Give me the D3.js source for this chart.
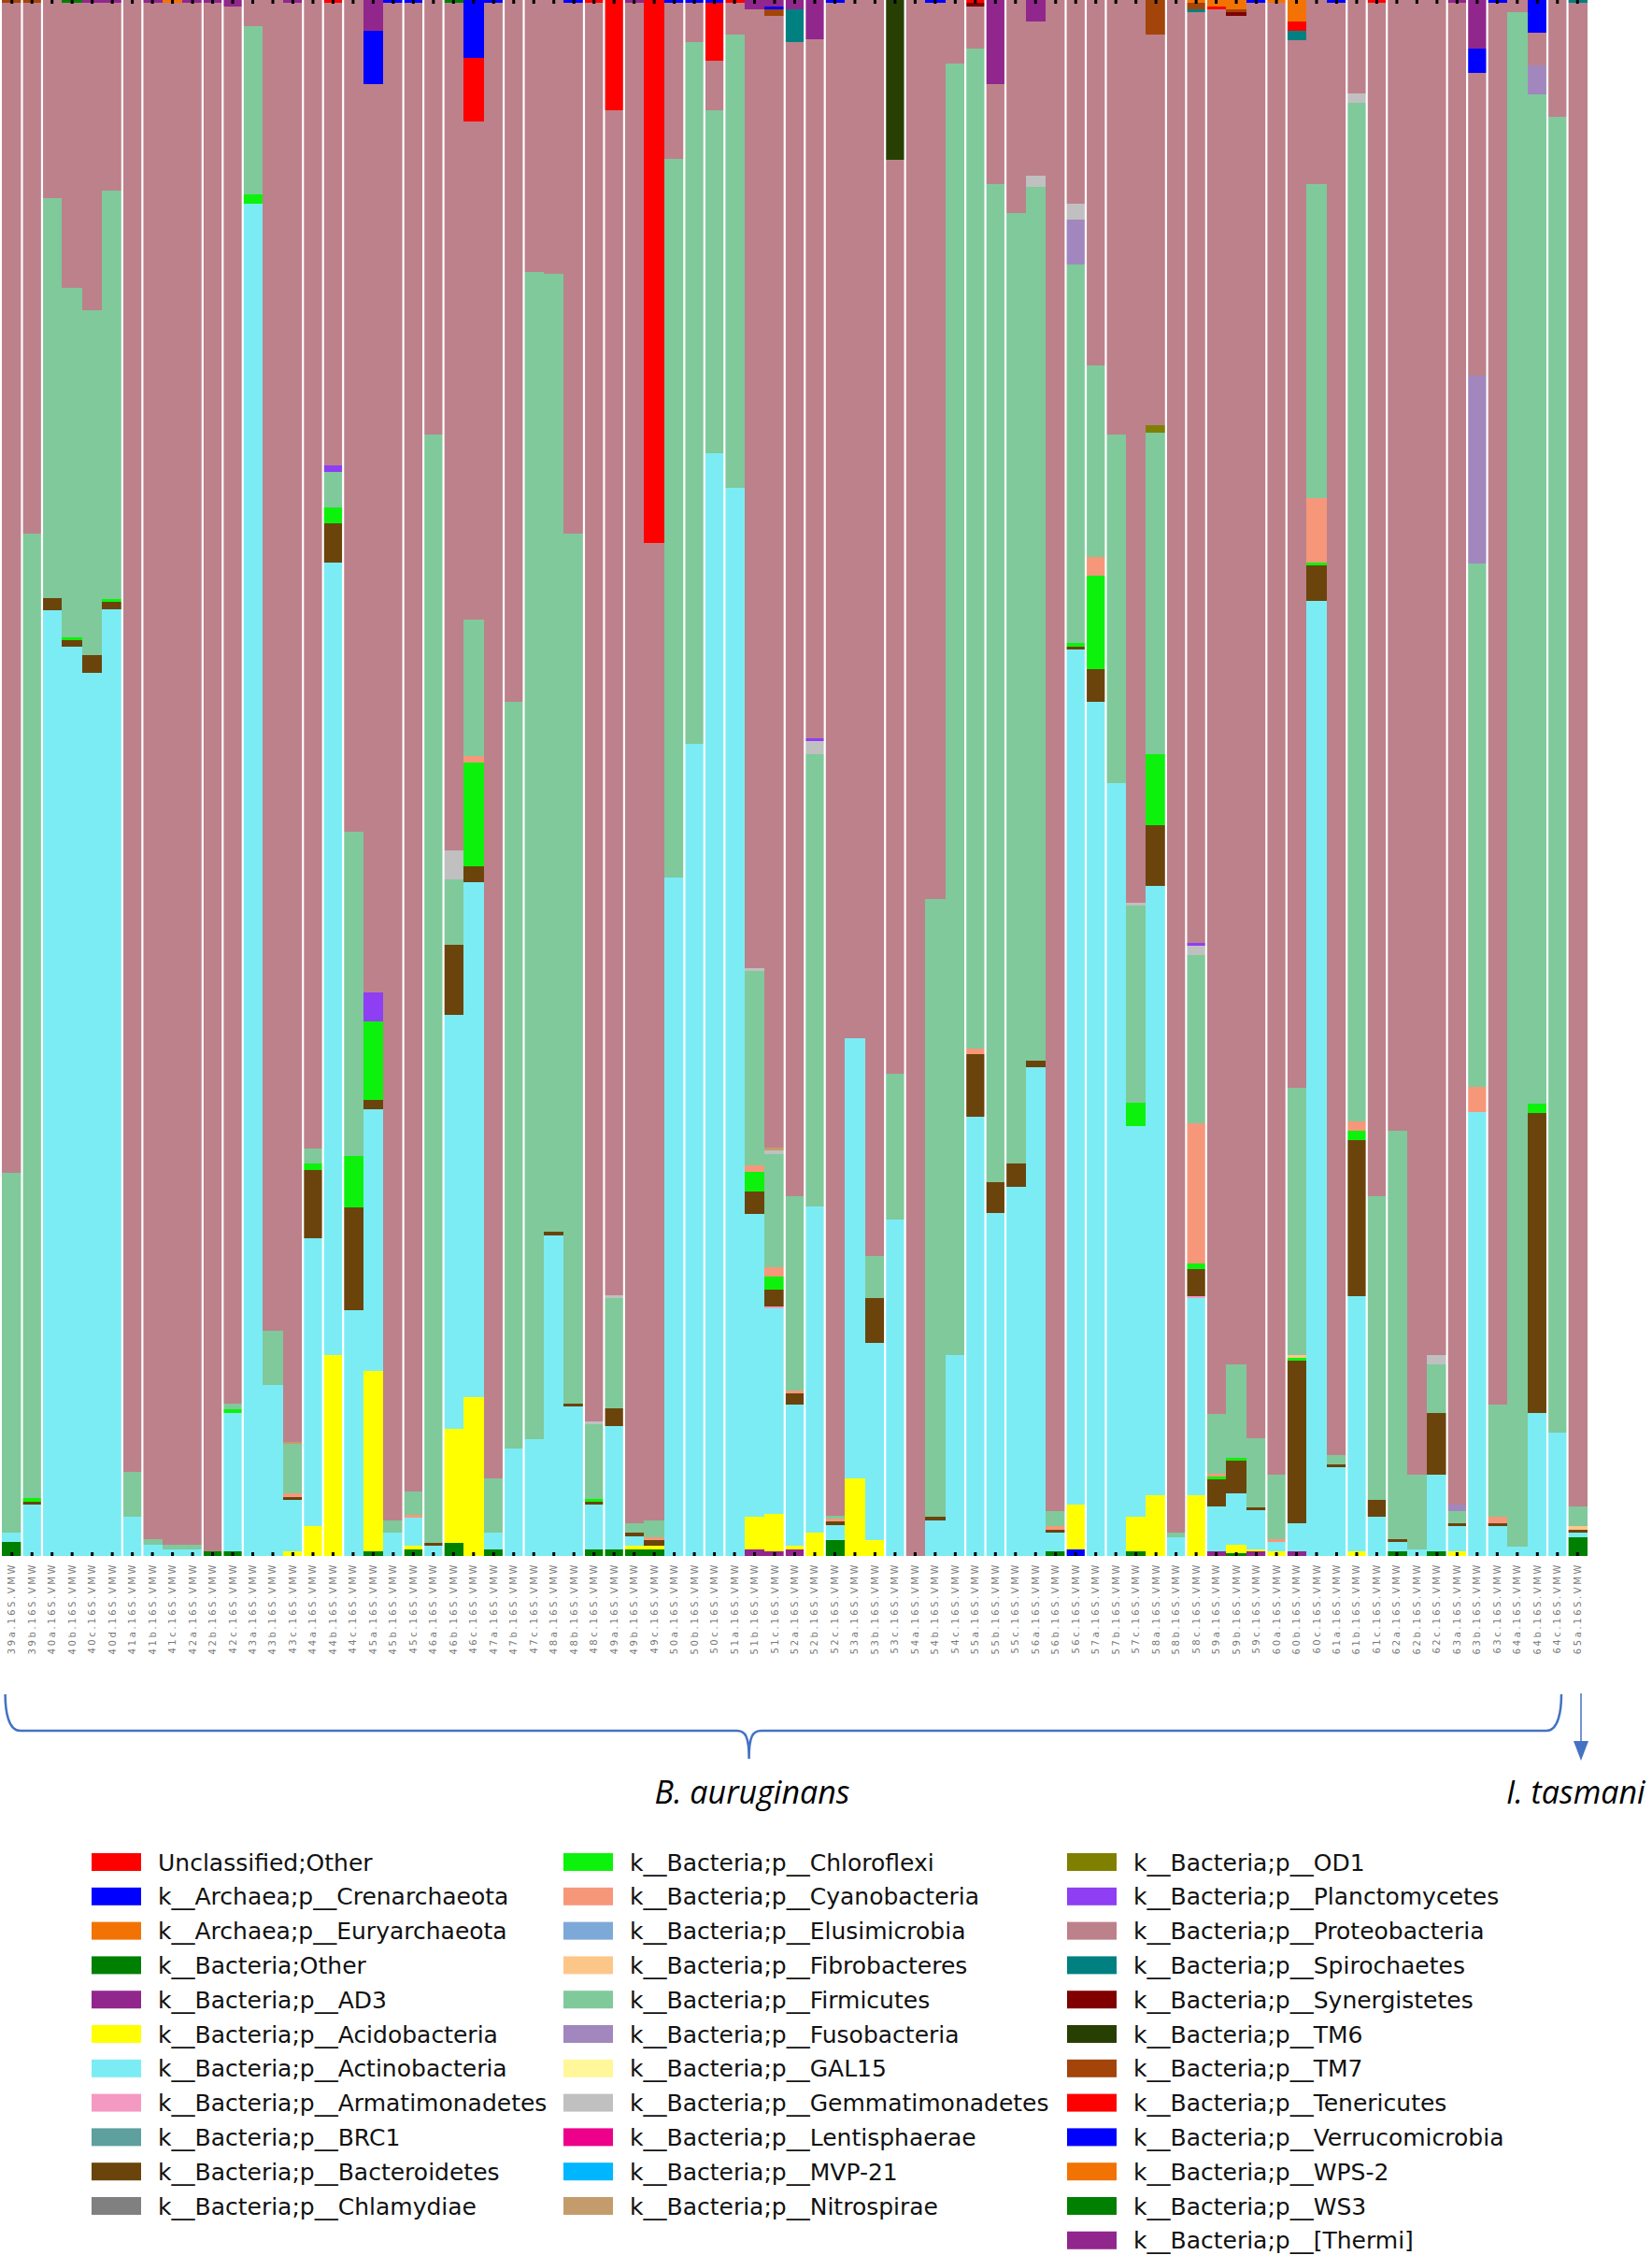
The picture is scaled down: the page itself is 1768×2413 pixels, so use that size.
<!DOCTYPE html>
<html>
<head>
  <meta charset="utf-8">
  <script src="https://d3js.org/d3.v7.min.js"></script>
  <style>
    body { margin: 0; background: #ffffff; }
    svg { display: block; font-family: "DejaVu Sans", sans-serif; }
    .sample_label { font-size: 10px; fill: #7a7a7a; letter-spacing: 2.6px; }
    .legend_label { font-size: 25px; fill: #111111; }
    .group_label { font-family: "Open Sans", sans-serif; font-style: italic; font-size: 34px; fill: #000000; }
  </style>
  <title>Sponge microbiome phyla</title>
</head>
<body>
  <svg></svg>
  <script>
    // samples, left to right
    const samples = [
      "39a","39b","40a","40b","40c","40d","41a","41b","41c","42a",
      "42b","42c","43a","43b","43c","44a","44b","44c","45a","45b",
      "45c","46a","46b","46c","47a","47b","47c","48a","48b","48c",
      "49a","49b","49c","50a","50b","50c","51a","51b","51c","52a",
      "52b","52c","53a","53b","53c","54a","54b","54c","55a","55b",
      "55c","56a","56b","56c","57a","57b","57c","58a","58b","58c",
      "59a","59b","59c","60a","60b","60c","61a","61b","61c","62a",
      "62b","62c","63a","63b","63c","64a","64b","64c","65a"
    ]

    // white rules drawn before these sample indexes
    const gapsBefore = [1,2,6,7,10,11,12,15,16,17,20,21,22,25,26,29,30,31,34,35,36,39,40,41,
                        44,45,48,49,50,53,54,55,58,59,60,63,64,67,68,69,72,73,74,77,78]

    const taxa = [
      "Unclassified;Other", "k__Archaea;p__Crenarchaeota", "k__Archaea;p__Euryarchaeota",
      "k__Bacteria;Other", "k__Bacteria;p__AD3", "k__Bacteria;p__Acidobacteria",
      "k__Bacteria;p__Actinobacteria", "k__Bacteria;p__Armatimonadetes", "k__Bacteria;p__BRC1",
      "k__Bacteria;p__Bacteroidetes", "k__Bacteria;p__Chlamydiae", "k__Bacteria;p__Chloroflexi",
      "k__Bacteria;p__Cyanobacteria", "k__Bacteria;p__Elusimicrobia", "k__Bacteria;p__Fibrobacteres",
      "k__Bacteria;p__Firmicutes", "k__Bacteria;p__Fusobacteria", "k__Bacteria;p__GAL15",
      "k__Bacteria;p__Gemmatimonadetes", "k__Bacteria;p__Lentisphaerae", "k__Bacteria;p__MVP-21",
      "k__Bacteria;p__Nitrospirae", "k__Bacteria;p__OD1", "k__Bacteria;p__Planctomycetes",
      "k__Bacteria;p__Proteobacteria", "k__Bacteria;p__Spirochaetes", "k__Bacteria;p__Synergistetes",
      "k__Bacteria;p__TM6", "k__Bacteria;p__TM7", "k__Bacteria;p__Tenericutes",
      "k__Bacteria;p__Verrucomicrobia", "k__Bacteria;p__WPS-2", "k__Bacteria;p__WS3",
      "k__Bacteria;p__[Thermi]"
    ]

    const colors = [
      "#ff0000", "#0000ff", "#f27304", "#008000", "#91278d", "#ffff00", "#7cecf4", "#f49ac2",
      "#5da09e", "#6b440b", "#808080", "#0cf20c", "#f7977a", "#7da9d8", "#fdc689", "#80c99b",
      "#a187be", "#fff799", "#c0c0c0", "#ed008a", "#00b6ff", "#c49c6b", "#808000", "#8e3ef3",
      "#bd818b", "#008080", "#800000", "#283f04", "#a3440a", "#ff0000", "#0000ff", "#f27304",
      "#008000", "#91278d"
    ]

    // relative abundance (%) per sample, one list per phylum; [] = absent everywhere
    const unclassified = []
    const crenarchaeota = [0,0,0,0,0,0,0,0,0,0, 0,0,0,0,0,0,0,0,0,0, 0,0,0,0,0,0,0,0,0,0, 0,0,0,0,0,0,0,0,0,0, 0,0,0,0,0,0,0,0,0,0, 0,0,0,0.4,0,0,0,0,0,0, 0,0,0,0,0,0,0,0,0,0, 0,0,0,0,0,0,0,0,0]
    const euryarchaeota = []
    const bacteriaOther = [0.9,0,0,0,0,0,0,0,0,0, 0.3,0.3,0,0,0,0,0,0,0.3,0, 0.4,0,0.85,0,0.4,0,0,0,0,0.4, 0.4,0.4,0.4,0,0,0,0,0,0,0, 0,1.0,0,0,0,0,0,0,0,0, 0,0,0.3,0,0,0,0.3,0,0,0, 0,0.2,0,0,0,0,0,0,0,0.3, 0,0.3,0,0,0,0,0,0,1.2]
    const ad3 = [0,0,0,0,0,0,0,0,0,0, 0,0,0,0,0,0,0,0,0,0, 0,0,0,0,0,0,0,0,0,0, 0,0,0,0,0,0,0,0.4,0.3,0.4, 0,0,0,0,0,0,0,0,0,0, 0,0,0,0,0,0,0,0,0,0, 0.3,0,0.3,0,0.3,0,0,0,0,0, 0,0,0,0,0,0,0,0,0]
    const acidobacteria = [0,0,0,0,0,0,0,0,0,0, 0,0,0,0,0.3,1.9,12.9,0,11.6,0, 0.25,0,7.3,10.2,0,0,0,0,0,0, 0,0.25,0.25,0,0,0,0,2.1,2.4,0.25, 1.5,0,5.0,1.0,0,0,0,0,0,0, 0,0,0,2.9,0,0,2.2,3.9,0,3.9, 0,0.5,0.15,0.3,0,0,0,0.3,0,0, 0,0,0.3,0,0,0,0,0,0]
    const actinobacteria = [0.6,3.3,60.7,58.4,56.6,60.7,2.5,0.7,0.4,0.4, 0,8.9,86.9,11.0,3.3,18.5,50.9,15.8,16.8,1.5, 1.8,0.65,26.6,33.1,1.1,6.9,7.5,20.6,9.6,2.9, 8.0,0.6,0,43.6,52.2,70.8,68.6,19.5,13.2,9.1, 21.0,1.0,28.3,12.7,21.6,0,2.3,12.9,28.2,22.0, 23.7,31.4,1.2,54.9,54.9,49.6,25.1,39.1,1.2,12.7, 2.9,3.3,2.5,0.6,1.8,61.3,5.7,16.4,2.5,0.6, 0.4,4.9,1.6,28.5,1.9,0.6,9.2,7.9,0.3]
    const armatimonadetes = [0,0,0,0,0,0,0,0,0,0, 0,0,0,0,0,0,0,0,0,0, 0,0,0,0,0,0,0,0,0,0, 0,0,0,0,0,0,0,0,0.15,0, 0,0,0,0,0,0,0,0,0,0, 0,0,0,0,0,0,0,0,0,0.15, 0,0,0,0,0,0,0,0,0,0, 0,0,0,0,0,0,0,0,0]
    const brc1 = []
    const bacteroidetes = [0,0.2,0.8,0.4,1.1,0.5,0,0,0,0, 0,0,0,0,0.2,4.4,2.5,6.6,0.6,0, 0,0.2,4.5,1.0,0,0,0,0.2,0.2,0.2, 1.1,0.25,0.4,0,0,0,0,1.4,1.1,0.7, 0,0.2,0,2.9,0,0,0.2,0,4.0,2.0, 1.5,0.4,0.2,0.2,2.1,0,0,3.9,0,1.7, 1.7,2.1,0.2,0,10.4,2.3,0.2,10.0,1.1,0.2, 0,4.0,0.2,0,0.2,0,19.3,0,0.2]
    const chlamydiae = []
    const chloroflexi = [0,0.2,0,0.2,0,0.2,0,0,0,0, 0,0.2,0.6,0,0,0.4,1.0,3.3,5.0,0, 0,0,0,6.7,0,0,0,0,0,0.15, 0,0,0,0,0,0,0,1.3,0.8,0, 0,0,0,0,0,0,0,0,0,0, 0,0,0,0.2,6.0,0,1.5,4.6,0,0.4, 0.2,0.2,0,0,0.2,0.2,0,0.6,0,0, 0,0,0,0,0,0,0.6,0,0]
    const cyanobacteria = [0,0,0,0,0,0,0,0,0,0, 0,0,0,0,0.2,0,0,0,0,0, 0.2,0,0,0.4,0,0,0,0,0,0, 0,0,0.15,0,0,0,0,0.4,0.6,0.2, 0,0.2,0,0,0,0,0,0,0.4,0, 0,0,0.2,0,1.2,0,0,0,0,9.0, 0.2,0,0,0.2,0,4.1,0,0.6,0,0, 0,0,0,1.6,0.4,0,0,0,0]
    const elusimicrobia = []
    const fibrobacteres = [0,0,0,0,0,0,0,0,0,0, 0,0,0,0,0,0,0,0,0,0, 0,0,0,0,0,0,0,0,0,0, 0,0,0,0,0,0,0,0,0,0, 0,0,0,0,0,0,0,0,0,0, 0,0,0,0,0,0,0,0,0,0, 0,0,0,0,0.2,0,0,0,0,0, 0,0,0,0,0,0,0,0,0.2]
    const firmicutes = [23.1,62.0,25.7,22.4,22.1,26.2,2.9,0.4,0.3,0.3, 0,0.4,10.8,3.5,3.2,1.0,2.3,20.8,0,0.8, 1.5,71.2,4.2,8.8,3.5,48.0,75.0,61.5,55.9,4.8, 7.1,0.6,1.1,46.2,45.1,22.0,29.1,12.5,7.3,12.5, 29.1,0.2,0,2.7,9.4,0,39.7,82.9,64.2,64.0, 61.1,56.1,1.0,24.3,12.3,22.4,12.7,20.6,0.3,10.8, 3.8,6.0,4.4,4.1,17.1,20.2,0.6,65.5,19.5,26.2, 4.8,3.1,0.8,33.6,7.2,98.5,64.9,84.6,1.3]
    const fusobacteria = [0,0,0,0,0,0,0,0,0,0, 0,0,0,0,0,0,0,0,0,0, 0,0,0,0,0,0,0,0,0,0, 0,0,0,0,0,0,0,0,0,0, 0,0,0,0,0,0,0,0,0,0, 0,0,0,2.9,0,0,0,0,0,0, 0,0,0,0,0,0,0,0,0,0, 0,0,0.4,12.1,0,0,1.9,0,0]
    const gal15 = []
    const gemmatimonadetes = [0,0,0,0,0,0,0,0,0,0, 0,0,0,0,0,0,0,0,0,0, 0,0,1.9,0,0,0,0,0,0,0.2, 0.2,0,0,0,0,0,0,0.2,0.2,0, 0.8,0,0,0,0,0,0,0,0,0, 0,0.7,0,1.0,0,0,0.2,0,0,0.6, 0,0,0,0,0,0,0,0.6,0,0, 0,0.6,0,0,0,0,0,0,0]
    const lentisphaerae = []
    const mvp21 = []
    const nitrospirae = [0,0,0,0,0,0,0,0,0,0, 0,0,0,0,0.15,0,0,0,0,0, 0,0,0,0,0,0,0,0,0,0, 0,0,0,0,0,0,0,0,0.2,0, 0,0,0,0,0,0,0,0,0,0, 0,0,0,0,0,0,0,0,0,0, 0,0,0,0,0,0,0,0,0,0, 0,0,0,0,0,0,0,0,0]
    const od1 = [0,0,0,0,0,0,0,0,0,0, 0,0,0,0,0,0,0,0,0,0, 0,0,0,0,0,0,0,0,0,0, 0,0,0,0,0,0,0,0,0,0, 0,0,0,0,0,0,0,0,0,0, 0,0,0,0,0,0,0,0.5,0,0, 0,0,0,0,0,0,0,0,0,0, 0,0,0,0,0,0,0,0,0]
    const planctomycetes = [0,0,0,0,0,0,0,0,0,0, 0,0,0,0,0,0,0.4,0,1.9,0, 0,0,0,0,0,0,0,0,0,0, 0,0,0,0,0,0,0,0,0,0, 0.2,0,0,0,0,0,0,0,0,0, 0,0,0,0,0,0,0,0,0,0.2, 0,0,0,0,0,0,0,0,0,0, 0,0,0,0,0,0,0,0,0]
    const proteobacteria = [75.2,34.1,12.7,18.3,19.7,12.0,94.6,98.7,99.0,99.0, 99.4,89.8,1.7,85.5,92.4,73.8,29.7,53.4,58.3,97.5, 95.6,27.9,54.4,32.0,94.8,45.1,17.5,17.6,34.1,91.2, 76.4,97.7,62.8,10.0,2.5,3.2,2.0,61.6,72.8,74.2, 45.0,97.2,66.7,80.7,58.7,100,57.5,4.1,2.7,6.4, 13.7,9.9,97.1,13.1,23.5,27.9,58.0,25.1,98.5,59.9, 90.3,86.7,92.2,94.6,67.1,11.8,93.3,6.0,76.7,72.7, 94.8,87.1,96.5,19.4,90.1,0.8,2.1,7.5,96.6]
    const spirochaetes = [0,0,0,0,0,0,0,0,0,0, 0,0,0,0,0,0,0,0,0,0, 0,0,0,0,0,0,0,0,0,0, 0,0,0,0,0,0,0,0,0,2.1, 0,0,0,0,0,0,0,0,0,0, 0,0,0,0,0,0,0,0,0,0.2, 0,0,0,0,0.6,0,0,0,0,0, 0,0,0,0,0,0,0,0,0.2]
    const synergistetes = [0,0,0,0,0,0,0,0,0,0, 0,0,0,0,0,0,0,0,0,0, 0,0,0,0,0,0,0,0,0,0, 0,0,0,0,0,0,0,0,0,0, 0,0,0,0,0,0,0,0,0.2,0, 0,0,0,0,0,0,0,0,0,0, 0,0.2,0,0,0,0,0,0,0,0, 0,0,0,0,0,0,0,0,0]
    const tm6 = [0,0,0,0,0,0,0,0,0,0, 0,0,0,0,0,0,0,0,0,0, 0,0,0,0,0,0,0,0,0,0, 0,0,0,0,0,0,0,0,0,0, 0,0,0,0,10.3,0,0,0,0,0, 0,0,0,0,0,0,0,0,0,0, 0,0,0,0,0,0,0,0,0,0, 0,0,0,0,0,0,0,0,0]
    const tm7 = [0.2,0.2,0,0,0,0,0,0,0,0, 0,0,0,0,0,0,0,0,0,0, 0,0,0,0,0,0,0,0,0,0, 0,0,0,0,0,0,0,0,0.4,0, 0,0,0,0,0,0,0,0,0,0, 0,0,0,0,0,0,0,2.2,0,0.4, 0,0.2,0,0,0,0,0,0,0,0, 0,0,0,0,0,0,0,0,0]
    const tenericutes = [0,0,0,0,0,0,0,0,0,0, 0,0,0,0,0,0,0.2,0,0,0, 0,0,0,4.1,0,0,0,0,0,0.2, 7.1,0,34.9,0,0,3.7,0.2,0,0,0, 0,0,0,0,0,0,0,0,0.2,0, 0,0,0,0,0,0,0,0,0,0, 0.2,0,0,0,0.6,0,0,0,0.2,0, 0,0,0,0,0,0,0,0,0]
    const verrucomicrobia = [0,0,0,0,0,0,0,0,0,0, 0,0,0,0,0,0,0,0,3.4,0.2, 0.2,0,0,3.7,0.2,0,0,0,0.2,0, 0,0,0,0.2,0.2,0.2,0,0,0.2,0, 0,0.2,0,0,0,0,0.2,0,0,0, 0,0,0,0,0,0,0,0,0,0, 0,0,0.2,0,0,0,0.2,0,0,0, 0,0,0,1.6,0.2,0,2.1,0,0]
    const wps2 = [0,0,0,0,0,0,0,0,0.2,0, 0,0,0,0,0,0,0,0,0,0, 0,0,0,0,0,0,0,0,0,0, 0,0,0,0,0,0,0,0,0,0, 0,0,0,0,0,0,0,0,0,0, 0,0,0,0,0,0,0,0,0,0.2, 0.4,0.6,0,0.2,1.4,0,0,0,0,0, 0,0,0,0,0,0,0,0,0]
    const ws3 = [0,0,0,0.2,0,0,0,0,0,0, 0,0,0,0,0,0,0,0,0,0, 0,0,0.2,0,0,0,0,0,0,0, 0,0,0,0,0,0,0,0,0,0, 0,0,0,0,0,0,0,0,0,0, 0,0,0,0,0,0,0,0,0,0, 0,0,0,0,0,0,0,0,0,0, 0,0,0,0,0,0,0,0,0]
    const thermi = [0,0,0,0,0.2,0.2,0,0.2,0,0.2, 0.2,0.4,0,0,0.2,0,0,0,2.0,0, 0,0,0,0,0,0,0,0,0,0, 0,0.2,0,0,0,0,0,0.6,0.4,0.6, 2.5,0,0,0,0,0,0,0,0,5.4, 0,1.4,0,0,0,0,0,0,0,0, 0,0,0,0,0,0,0,0,0,0, 0,0,0.2,3.1,0,0,0,0,0]

    const groups = [
      {label: "B. auruginans", anchor: "middle"},
      {label: "I. tasmani", anchor: "start"}
    ]

    // same order as taxa
    const series = [
      unclassified, crenarchaeota, euryarchaeota, bacteriaOther, ad3, acidobacteria,
      actinobacteria, armatimonadetes, brc1, bacteroidetes, chlamydiae, chloroflexi,
      cyanobacteria, elusimicrobia, fibrobacteres, firmicutes, fusobacteria, gal15,
      gemmatimonadetes, lentisphaerae, mvp21, nitrospirae, od1, planctomycetes,
      proteobacteria, spirochaetes, synergistetes, tm6, tm7, tenericutes,
      verrucomicrobia, wps2, ws3, thermi
    ]

    const width = 1768
    const height = 2413
    const plotLeft = 2
    const plotRight = 1699
    const plotTop = 0
    const plotBottom = 1665

    const svg = d3.select("svg")
      .attr("width", width)
      .attr("height", height)

    const rows = samples.map((s, i) => {
      const row = {sample: s}
      taxa.forEach((t, j) => { row[t] = series[j][i] || 0 })
      return row
    })

    const layers = d3.stack()
      .keys(taxa)
      .offset(d3.stackOffsetExpand)(rows)

    const xScale = d3.scaleBand()
      .domain(samples)
      .range([plotLeft, plotRight])
      .padding(0)

    const yScale = d3.scaleLinear()
      .domain([0, 1])
      .range([plotBottom, plotTop])

    // stacked bars
    svg.append("g")
      .selectAll("g")
      .data(layers)
      .join("g")
      .attr("fill", (d, i) => colors[i])
      .selectAll("rect")
      .data(d => d.filter(p => p[1] > p[0]))
      .join("rect")
      .attr("x", d => xScale(d.data.sample))
      .attr("y", d => yScale(d[1]))
      .attr("width", xScale.bandwidth())
      .attr("height", d => yScale(d[0]) - yScale(d[1]))
      .attr("shape-rendering", "crispEdges")

    // white rules between some samples
    svg.append("g")
      .selectAll("rect")
      .data(gapsBefore)
      .join("rect")
      .attr("x", k => xScale(samples[k]) - 1.1)
      .attr("y", plotTop)
      .attr("width", 2.2)
      .attr("height", plotBottom - plotTop)
      .attr("fill", "#ffffff")

    // inward ticks top and bottom
    const ticks = svg.append("g").attr("fill", "#000000")
    ticks.selectAll(".tick_top")
      .data(samples)
      .join("rect")
      .attr("class", "tick_top")
      .attr("x", d => xScale(d) + xScale.bandwidth() / 2 - 1.5)
      .attr("y", plotTop)
      .attr("width", 3)
      .attr("height", 4)
    ticks.selectAll(".tick_bottom")
      .data(samples)
      .join("rect")
      .attr("class", "tick_bottom")
      .attr("x", d => xScale(d) + xScale.bandwidth() / 2 - 1.5)
      .attr("y", plotBottom - 4)
      .attr("width", 3)
      .attr("height", 4)

    // sample labels
    svg.append("g")
      .selectAll("text")
      .data(samples)
      .join("text")
      .attr("class", "sample_label")
      .attr("transform", d => `translate(${xScale(d) + xScale.bandwidth() / 2},${plotBottom + 7}) rotate(-90)`)
      .attr("text-anchor", "end")
      .attr("dominant-baseline", "central")
      .text(d => d + ".16S.VMW")

    // brace and arrow
    const braceColor = "#4472c4"
    const bl = 5.6, br = 1671, bc = 801.6, bTop = 1813, bMid = 1852, bTip = 1882
    svg.append("path")
      .attr("d", `M${bl},${bTop} C${bl},${bMid - 22} ${bl + 3},${bMid} ${bl + 16},${bMid}
                  L${bc - 13},${bMid} C${bc - 4},${bMid} ${bc},${bMid + 6} ${bc},${bTip}
                  C${bc},${bMid + 6} ${bc + 4},${bMid} ${bc + 13},${bMid}
                  L${br - 16},${bMid} C${br - 3},${bMid} ${br},${bMid - 22} ${br},${bTop}`)
      .attr("fill", "none")
      .attr("stroke", braceColor)
      .attr("stroke-width", 2.5)

    const ax = 1692
    svg.append("line")
      .attr("x1", ax).attr("x2", ax)
      .attr("y1", 1812).attr("y2", 1866)
      .attr("stroke", braceColor)
      .attr("stroke-width", 1.5)
    svg.append("path")
      .attr("d", `M${ax - 8},1863 L${ax + 8},1863 L${ax},1884 Z`)
      .attr("fill", braceColor)

    svg.selectAll(".group_label")
      .data(groups)
      .join("text")
      .attr("class", "group_label")
      .attr("x", (d, i) => i === 0 ? 805 : 1612)
      .attr("y", 1930)
      .attr("text-anchor", d => d.anchor)
      .text(d => d.label)

    // legend, three columns
    const legendX = [98, 603, 1142]
    const legendTop = 1983
    const legendStep = 36.8
    const legendPos = taxa.map((t, i) => {
      const col = i < 11 ? 0 : (i < 22 ? 1 : 2)
      const row = i - col * 11
      return {name: t, color: colors[i], col: col, row: row}
    })

    const legend = svg.append("g")
    legend.selectAll("rect")
      .data(legendPos)
      .join("rect")
      .attr("x", d => legendX[d.col])
      .attr("y", d => legendTop + d.row * legendStep)
      .attr("width", 53)
      .attr("height", 19)
      .attr("fill", d => d.color)

    legend.selectAll("text")
      .data(legendPos)
      .join("text")
      .attr("class", "legend_label")
      .attr("x", d => legendX[d.col] + 71)
      .attr("y", d => legendTop + d.row * legendStep + 18.5)
      .text(d => d.name)
  </script>
</body>
</html>
